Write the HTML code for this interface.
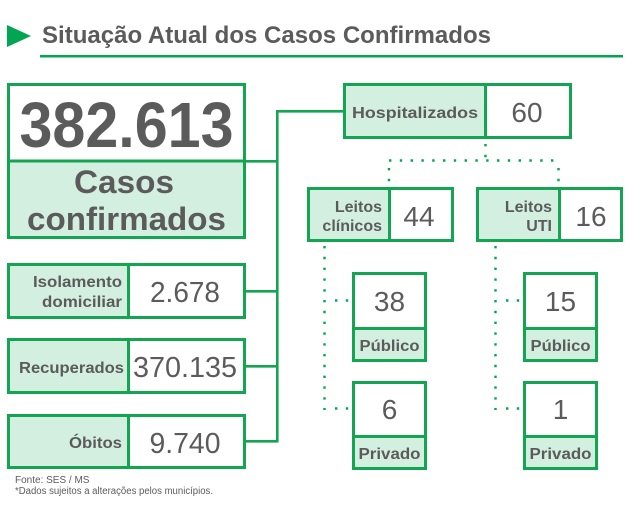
<!DOCTYPE html>
<html><head><meta charset="utf-8"><style>
html,body{margin:0;padding:0;background:#fff;}
svg{display:block;}
text{font-family:"Liberation Sans",Arial,sans-serif;fill:#5b5b5b;}
.b{font-weight:bold;}
</style></head><body>
<svg width="625" height="509" viewBox="0 0 625 509" xmlns="http://www.w3.org/2000/svg">
<!-- title -->
<polygon points="7,25 7,47 31,36" fill="#00a651"/>
<text x="42" y="43" class="b" font-size="24" textLength="449" lengthAdjust="spacingAndGlyphs">Situação Atual dos Casos Confirmados</text>
<rect x="40" y="55" width="583" height="2.5" fill="#00a651"/>

<g stroke="#14a552" stroke-width="3" fill="none">
<!-- main box -->
<rect x="8.5" y="161" width="236" height="76.5" fill="#d3efdf"/>
<rect x="8.5" y="84.5" width="236" height="153" />
<line x1="8.5" y1="161" x2="244.5" y2="161"/>
<!-- left boxes -->
<rect x="8.5" y="264.5" width="236" height="53" fill="#fff"/>
<rect x="8.5" y="264.5" width="120" height="53" fill="#d3efdf"/>
<rect x="8.5" y="339.5" width="236" height="53" fill="#fff"/>
<rect x="8.5" y="339.5" width="120" height="53" fill="#d3efdf"/>
<rect x="8.5" y="415.5" width="236" height="52" fill="#fff"/>
<rect x="8.5" y="415.5" width="120" height="52" fill="#d3efdf"/>
<!-- connectors -->
<g stroke-width="2.6">
<line x1="246" y1="161.3" x2="277.3" y2="161.3"/>
<line x1="277.3" y1="110" x2="277.3" y2="442.5"/>
<line x1="277.3" y1="111.3" x2="343" y2="111.3"/>
<line x1="246" y1="291.3" x2="277.3" y2="291.3"/>
<line x1="246" y1="366.3" x2="277.3" y2="366.3"/>
<line x1="246" y1="441.3" x2="277.3" y2="441.3"/>
</g>
<!-- hospitalizados -->
<rect x="344.5" y="84.5" width="226" height="53" fill="#fff"/>
<rect x="344.5" y="84.5" width="141" height="53" fill="#d3efdf"/>
<!-- leitos -->
<rect x="308.5" y="188.5" width="144" height="52" fill="#fff"/>
<rect x="308.5" y="188.5" width="81" height="52" fill="#d3efdf"/>
<rect x="477.5" y="188.5" width="144" height="52" fill="#fff"/>
<rect x="477.5" y="188.5" width="82" height="52" fill="#d3efdf"/>
<!-- bottom boxes -->
<rect x="353.5" y="328.5" width="72" height="32" fill="#d3efdf"/>
<rect x="353.5" y="273.5" width="72" height="87"/>
<line x1="353.5" y1="328.5" x2="425.5" y2="328.5"/>
<rect x="353.5" y="436.5" width="72" height="32" fill="#d3efdf"/>
<rect x="353.5" y="382.5" width="72" height="86"/>
<line x1="353.5" y1="436.5" x2="425.5" y2="436.5"/>
<rect x="524.5" y="328.5" width="72" height="32" fill="#d3efdf"/>
<rect x="524.5" y="273.5" width="72" height="87"/>
<line x1="524.5" y1="328.5" x2="596.5" y2="328.5"/>
<rect x="524.5" y="436.5" width="72" height="32" fill="#d3efdf"/>
<rect x="524.5" y="382.5" width="72" height="86"/>
<line x1="524.5" y1="436.5" x2="596.5" y2="436.5"/>
</g>
<!-- dotted -->
<g stroke="#00a651" stroke-width="2.4" fill="none" stroke-dasharray="2.4 8.4">
<line x1="485.5" y1="144" x2="485.5" y2="158"/>
<line x1="389" y1="160.5" x2="560" y2="160.5"/>
<line x1="389" y1="168" x2="389" y2="186"/>
<line x1="558.5" y1="168" x2="558.5" y2="186"/>
<line x1="324.5" y1="246" x2="324.5" y2="410"/>
<line x1="335" y1="300.5" x2="350" y2="300.5"/>
<line x1="335" y1="408.5" x2="350" y2="408.5"/>
<line x1="495.5" y1="246" x2="495.5" y2="410"/>
<line x1="506" y1="300.5" x2="521" y2="300.5"/>
<line x1="506" y1="408.5" x2="521" y2="408.5"/>
</g>

<!-- texts -->
<text x="126.5" y="147" class="b" font-size="64" text-anchor="middle" textLength="214" lengthAdjust="spacingAndGlyphs">382.613</text>
<text x="124" y="193" class="b" font-size="32" text-anchor="middle" textLength="100" lengthAdjust="spacingAndGlyphs">Casos</text>
<text x="126.5" y="230" class="b" font-size="32" text-anchor="middle" textLength="199" lengthAdjust="spacingAndGlyphs">confirmados</text>

<text x="122" y="287" class="b" font-size="16" text-anchor="end" textLength="89" lengthAdjust="spacingAndGlyphs">Isolamento</text>
<text x="122" y="307" class="b" font-size="16" text-anchor="end" textLength="80" lengthAdjust="spacingAndGlyphs">domiciliar</text>
<text x="185" y="302" font-size="29" text-anchor="middle" textLength="70" lengthAdjust="spacingAndGlyphs">2.678</text>
<text x="124" y="373" class="b" font-size="16" text-anchor="end" textLength="105" lengthAdjust="spacingAndGlyphs">Recuperados</text>
<text x="185" y="377" font-size="29" text-anchor="middle" textLength="104" lengthAdjust="spacingAndGlyphs">370.135</text>
<text x="122" y="448" class="b" font-size="16" text-anchor="end" textLength="53" lengthAdjust="spacingAndGlyphs">Óbitos</text>
<text x="185" y="453" font-size="29" text-anchor="middle" textLength="71" lengthAdjust="spacingAndGlyphs">9.740</text>

<text x="352" y="118" class="b" font-size="16" textLength="126" lengthAdjust="spacingAndGlyphs">Hospitalizados</text>
<text x="527" y="122" font-size="28" text-anchor="middle">60</text>

<text x="382" y="212" class="b" font-size="16" text-anchor="end">Leitos</text>
<text x="382" y="231" class="b" font-size="16" text-anchor="end">clínicos</text>
<text x="419" y="226" font-size="28" text-anchor="middle">44</text>
<text x="552" y="212" class="b" font-size="16" text-anchor="end">Leitos</text>
<text x="552" y="231" class="b" font-size="16" text-anchor="end">UTI</text>
<text x="591" y="226" font-size="28" text-anchor="middle">16</text>

<text x="389.5" y="311" font-size="28" text-anchor="middle">38</text>
<text x="389.5" y="351" class="b" font-size="16" text-anchor="middle" textLength="60" lengthAdjust="spacingAndGlyphs">Público</text>
<text x="389.5" y="419" font-size="28" text-anchor="middle">6</text>
<text x="389.5" y="459" class="b" font-size="16" text-anchor="middle" textLength="62" lengthAdjust="spacingAndGlyphs">Privado</text>
<text x="560.5" y="311" font-size="28" text-anchor="middle">15</text>
<text x="560.5" y="351" class="b" font-size="16" text-anchor="middle" textLength="60" lengthAdjust="spacingAndGlyphs">Público</text>
<text x="560.5" y="419" font-size="28" text-anchor="middle">1</text>
<text x="560.5" y="459" class="b" font-size="16" text-anchor="middle" textLength="62" lengthAdjust="spacingAndGlyphs">Privado</text>

<text x="15" y="483" font-size="10">Fonte: SES / MS</text>
<text x="15" y="494" font-size="10" textLength="198" lengthAdjust="spacingAndGlyphs">*Dados sujeitos a alterações pelos municípios.</text>
</svg>
</body></html>
